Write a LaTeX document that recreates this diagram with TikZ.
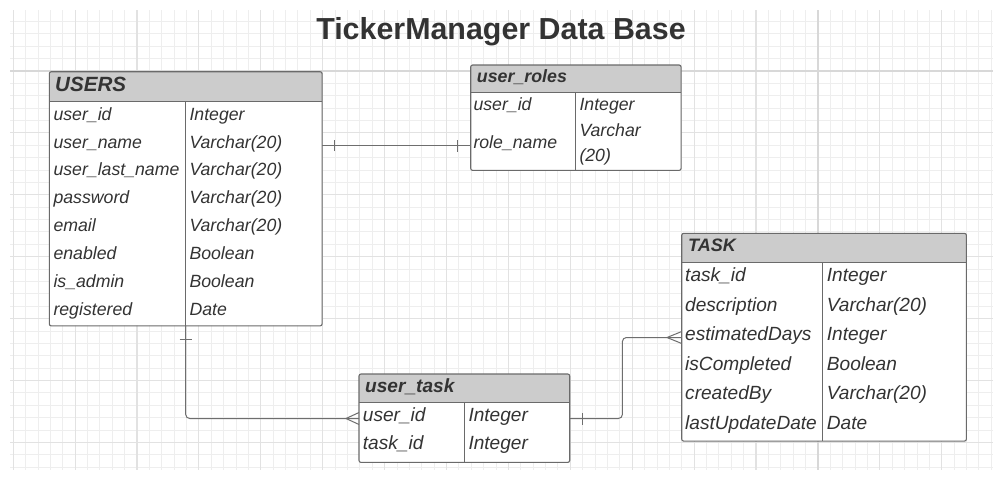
\documentclass[tikz,border=0pt]{standalone}
\usepackage{fontspec}
\setmainfont{Liberation Sans}
\definecolor{txt}{HTML}{333333}
\definecolor{hdr}{HTML}{CCCCCC}
\definecolor{bord}{HTML}{6A6A6A}
\definecolor{gmin}{HTML}{EEEEEE}
\definecolor{gmed}{HTML}{E2E2E2}
\definecolor{gmaj}{HTML}{D8D8D8}
\definecolor{conncol}{HTML}{6E6E6E}
\begin{document}
\begin{tikzpicture}[x=1pt,y=-1pt,
  gridmin/.style={draw=gmin,line width=0.9pt},
  gridmed/.style={draw=gmed,line width=1.1pt},
  gridmaj/.style={draw=gmaj,line width=1.8pt},
  tbl/.style={draw=none,fill=white,rounded corners=2pt,inner sep=0pt,anchor=north west},
  border/.style={draw=bord,line width=1.1pt,rounded corners=2pt},
  sepline/.style={draw=bord,line width=1.1pt},
  hdrfill/.style={fill=hdr},
  cell/.style={anchor=west,inner sep=0pt,text=txt,text height=0.75em,text depth=0.2em,yshift=-2.5pt},
  hcell/.style={anchor=west,inner sep=0pt,text=txt,text height=0.75em,text depth=0.2em,yshift=-4pt},
  fA/.style={font=\fontsize{17.7}{20}\selectfont\itshape},
  fB/.style={font=\fontsize{19.1}{22}\selectfont\itshape},
  conn/.style={draw=conncol,line width=1pt},
  tickmark/.style={draw=conncol,line width=1pt}
]
\useasboundingbox (0,0) rectangle (993,480);
\fill[white] (0,0) rectangle (993,480);
% grid
\foreach \i in {0,...,79}{\draw[gridmin] ({13.2+12.38*\i},10) -- ({13.2+12.38*\i},470);}
\foreach \j in {1,...,37}{\draw[gridmin] (10,{9.1+12.38*\j}) -- (993,{9.1+12.38*\j});}
\foreach \i in {0,5,...,75}{\draw[gridmed] ({13.2+12.38*\i},10) -- ({13.2+12.38*\i},470);}
\foreach \j in {5,10,...,35}{\draw[gridmed] (10,{9.1+12.38*\j}) -- (993,{9.1+12.38*\j});}
\draw[gridmaj] (817.9,10) -- (817.9,470);
\draw[gridmaj] (10,71) -- (993,71);

% title
\node[text=txt,inner sep=0pt,anchor=base,font=\fontsize{30.4}{34}\selectfont\bfseries] (title) at (501,39.3) {TickerManager Data Base};

% ---------- USERS ----------
\node[tbl,minimum width=272.4pt,minimum height=253.8pt] (users) at (49.3,71.7) {};
\begin{scope}
  \clip[rounded corners=2pt] (users.north west) rectangle (users.south east);
  \fill[hdrfill] (users.north west) rectangle ([yshift=-30pt]users.north east);
\end{scope}
\draw[sepline] ([yshift=-30pt]users.north west) -- ([yshift=-30pt]users.north east);
\draw[sepline] (185.7,101.7) -- (185.7,325.5);
\draw[border] (users.north west) rectangle (users.south east);
\node[hcell,font=\fontsize{20.6}{23}\selectfont\bfseries\itshape] (usersh) at (55,85) {USERS};
\foreach \n/\t/\y in {user\_id/Integer/115, user\_name/Varchar(20)/142.9, user\_last\_name/Varchar(20)/170.7,
  password/Varchar(20)/198.6, email/Varchar(20)/226.4, enabled/Boolean/254.3, is\_admin/Boolean/282.1, registered/Date/310}{
  \node[cell,fA] at (53.3,\y) {\n};
  \node[cell,fA] at (189.3,\y) {\t};
}

% ---------- user_roles ----------
\node[tbl,minimum width=210pt,minimum height=105pt] (roles) at (470.7,65) {};
\begin{scope}
  \clip[rounded corners=2pt] (roles.north west) rectangle (roles.south east);
  \fill[hdrfill] (roles.north west) rectangle ([yshift=-27.7pt]roles.north east);
\end{scope}
\draw[sepline] ([yshift=-27.7pt]roles.north west) -- ([yshift=-27.7pt]roles.north east);
\draw[sepline] (575.3,92.7) -- (575.3,170);
\draw[border] (roles.north west) rectangle (roles.south east);
\node[hcell,font=\fontsize{17.8}{20}\selectfont\bfseries\itshape] (rolesh) at (476.7,76) {user\_roles};
\node[cell,fA] (ruid) at (473.3,105) {user\_id};
\node[cell,fA] (ruint) at (579.3,105) {Integer};
\node[cell,fA] (rn) at (473.3,143) {role\_name};
\node[cell,fA] (rv1) at (579.3,131.7) {Varchar};
\node[cell,fA] (rv2) at (579.3,156) {(20)};

% ---------- TASK ----------
\node[tbl,minimum width=284.3pt,minimum height=207.4pt] (task) at (681.7,233.3) {};
\begin{scope}
  \clip[rounded corners=2pt] (task.north west) rectangle (task.south east);
  \fill[hdrfill] (task.north west) rectangle ([yshift=-29.4pt]task.north east);
\end{scope}
\draw[sepline] ([yshift=-29.4pt]task.north west) -- ([yshift=-29.4pt]task.north east);
\draw[sepline] (822.7,262.7) -- (822.7,440.7);
\draw[border] (task.north west) rectangle (task.south east);
\node[hcell,font=\fontsize{18}{21}\selectfont\bfseries\itshape] (taskh) at (688,245) {TASK};
\node[cell,fB] at (685,276.7) {task\_id};
\node[cell,fB] at (826.7,276.7) {Integer};
\node[cell,fB] at (685,306) {description};
\node[cell,fB] at (826.7,306) {Varchar(20)};
\node[cell,fB] (ed) at (685,335) {estimatedDays};
\node[cell,fB] at (826.7,335) {Integer};
\node[cell,fB] at (685,365) {isCompleted};
\node[cell,fB] at (826.7,365) {Boolean};
\node[cell,fB] at (685,394.3) {createdBy};
\node[cell,fB] at (826.7,394.3) {Varchar(20)};
\node[cell,fB] at (685,424) {lastUpdateDate};
\node[cell,fB] at (826.7,424) {Date};

% ---------- user_task ----------
\node[tbl,minimum width=210.3pt,minimum height=88pt] (ut) at (359,374) {};
\begin{scope}
  \clip[rounded corners=2pt] (ut.north west) rectangle (ut.south east);
  \fill[hdrfill] (ut.north west) rectangle ([yshift=-28.7pt]ut.north east);
\end{scope}
\draw[sepline] ([yshift=-28.7pt]ut.north west) -- ([yshift=-28.7pt]ut.north east);
\draw[sepline] (464.3,402.7) -- (464.3,462);
\draw[border] (ut.north west) rectangle (ut.south east);
\node[hcell,font=\fontsize{19.1}{22}\selectfont\bfseries\itshape] (uth) at (365,386) {user\_task};
\node[cell,fB] (utuid) at (362.7,416) {user\_id};
\node[cell,fB] at (468.3,416) {Integer};
\node[cell,fB] at (362.7,444.3) {task\_id};
\node[cell,fB] at (468.3,444.3) {Integer};

% ---------- connectors ----------
% USERS -- user_roles
\coordinate (c1a) at (users.east |- rn.west);
\coordinate (c1b) at (roles.west |- rn.west);
\draw[conn] (c1a) -- (c1b);
\draw[tickmark] ([xshift=12.6pt,yshift=-5.5pt]c1a) -- ([xshift=12.6pt,yshift=5.5pt]c1a);
\draw[tickmark] ([xshift=-13.4pt,yshift=-6pt]c1b) -- ([xshift=-13.4pt,yshift=6pt]c1b);

% USERS -- user_task
\coordinate (c2a) at (185.7,325.5);
\coordinate (c2b) at (ut.west |- utuid.west);
\draw[conn,rounded corners=4pt] (c2a) |- (c2b);
\draw[tickmark] ([xshift=-6pt,yshift=-14pt]c2a) -- ([xshift=6pt,yshift=-14pt]c2a);
\draw[tickmark] ([yshift=6pt]c2b) -- ([xshift=-13pt]c2b) -- ([yshift=-6pt]c2b);

% user_task -- TASK
\coordinate (c3a) at (ut.east |- utuid.west);
\coordinate (c3b) at (task.west |- ed.west);
\draw[conn,rounded corners=4pt] (c3a) -- ([xshift=52.7pt]c3a) |- (c3b);
\draw[tickmark] ([xshift=12.4pt,yshift=-6pt]c3a) -- ([xshift=12.4pt,yshift=6pt]c3a);
\draw[tickmark] ([yshift=6pt]c3b) -- ([xshift=-14.7pt]c3b) -- ([yshift=-6pt]c3b);
\end{tikzpicture}
\end{document}
